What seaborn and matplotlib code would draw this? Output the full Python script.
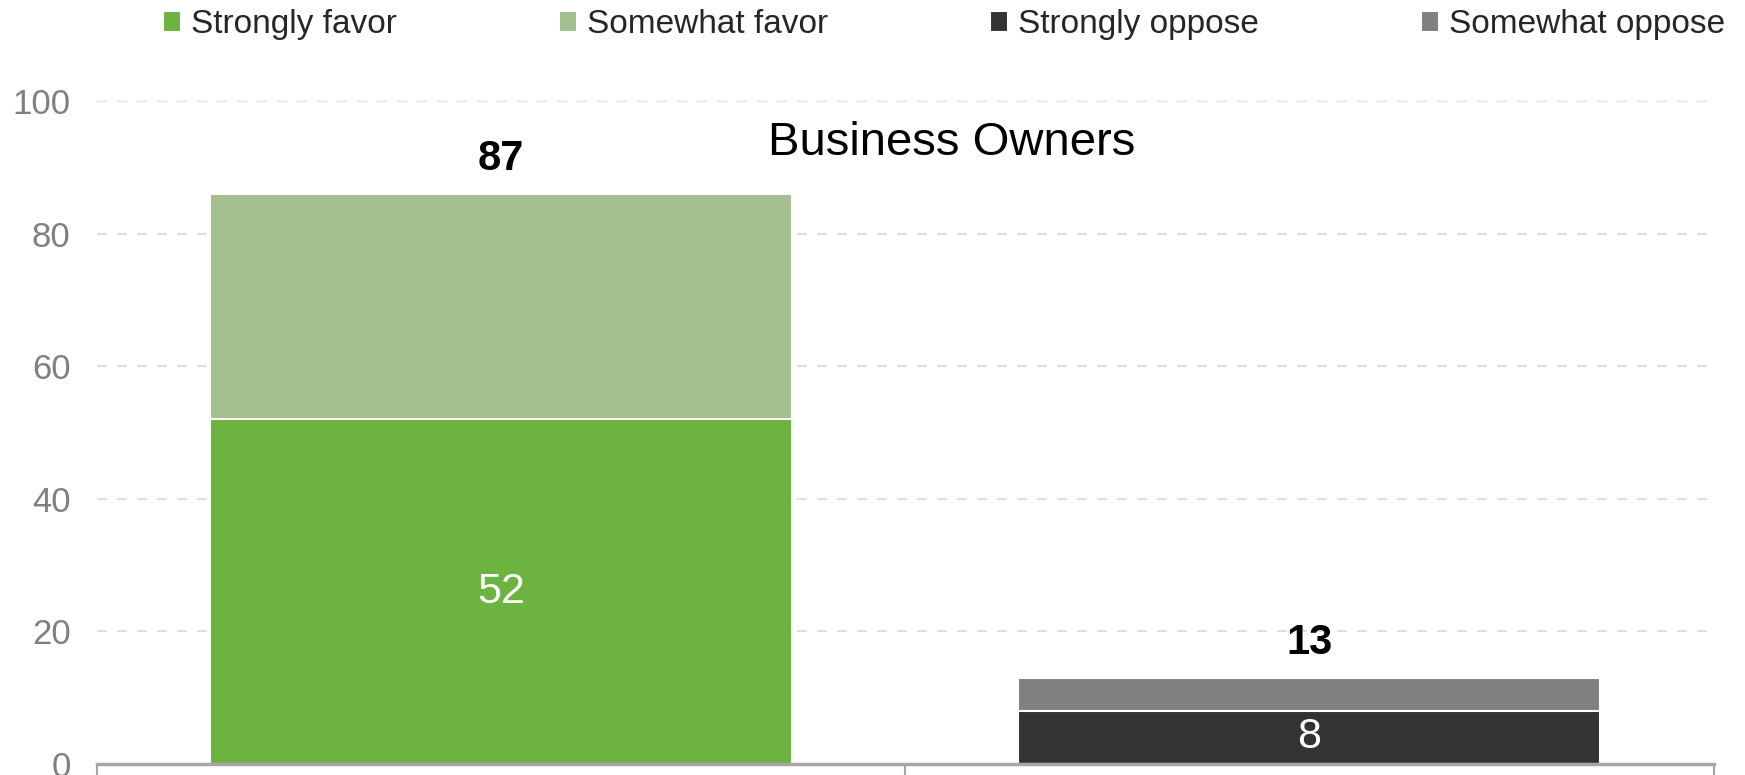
import seaborn as sns
import matplotlib.pyplot as plt
import pandas as pd

# Data
categories = ["Favor", "Oppose"]
strong_labels = ["Strongly favor", "Strongly oppose"]
somewhat_labels = ["Somewhat favor", "Somewhat oppose"]
strong_vals = [52, 8]
somewhat_vals = [34, 5]
totals = [87, 13]

colors = {
    "Strongly favor": "#6DB33F",
    "Somewhat favor": "#A3BF8F",
    "Strongly oppose": "#333333",
    "Somewhat oppose": "#808080",
}

sns.set_style("white")
plt.rcParams["font.family"] = ["Liberation Sans", "DejaVu Sans"]

# cumulative (top of stack) and base segments
top_df = pd.DataFrame({
    "category": categories,
    "series": somewhat_labels,
    "value": [s + w for s, w in zip(strong_vals, somewhat_vals)],
})
base_df = pd.DataFrame({
    "category": categories,
    "series": strong_labels,
    "value": strong_vals,
})

fig = plt.figure(figsize=(17.45, 7.75), dpi=100)
ax = fig.add_axes([0.0556, 0.0142, 0.9264, 0.8555])

sns.barplot(data=top_df, x="category", y="value", hue="series", order=categories,
            palette=colors, dodge=False, width=0.72, saturation=1,
            edgecolor="white", linewidth=1.5, ax=ax, legend=True)
sns.barplot(data=base_df, x="category", y="value", hue="series", order=categories,
            palette=colors, dodge=False, width=0.72, saturation=1,
            edgecolor="white", linewidth=1.5, ax=ax, legend=True)

# labels inside base segments and totals above
for i, (s, t) in enumerate(zip(strong_vals, totals)):
    ax.text(i, s / 2, str(s), ha="center", va="center", color="white", fontsize=31)
    top = s + somewhat_vals[i]
    ax.text(i, top + 2.3, str(t), ha="center", va="bottom", color="black",
            fontsize=30, fontweight="bold")

ax.text(0.529, 0.937, "Business Owners", transform=ax.transAxes, ha="center",
        va="center", fontsize=34, color="black")

ax.set_ylim(0, 100)
ax.set_xlim(-0.5, 1.5)
ax.set_yticks([0, 20, 40, 60, 80, 100])
ax.tick_params(axis="y", labelsize=25, labelcolor="#808080", length=0, pad=19)
ax.set_xticks([-0.5, 0.5, 1.5])
ax.set_xticklabels([])
ax.tick_params(axis="x", bottom=True, direction="out", length=30, width=1.5,
               color="#A6A6A6")
ax.yaxis.grid(True, linestyle=(0, (6, 6)), color="#D9D9D9", linewidth=1.2)
ax.set_axisbelow(True)
ax.set_xlabel("")
ax.set_ylabel("")
for side in ["left", "right", "top"]:
    ax.spines[side].set_visible(False)
ax.spines["bottom"].set_color("#A6A6A6")
ax.spines["bottom"].set_linewidth(2.5)

handles, labels = ax.get_legend_handles_labels()
lookup = dict(zip(labels, handles))
order = ["Strongly favor", "Somewhat favor", "Strongly oppose", "Somewhat oppose"]
ax.get_legend().remove()
fig.legend([lookup[k] for k in order], order, loc="center", ncol=4,
           bbox_to_anchor=(0.541, 0.968), frameon=False, fontsize=24,
           handlelength=0.55, handleheight=0.55, handletextpad=0.3,
           columnspacing=4.85, borderaxespad=0)

fig.savefig("out.png", dpi=100)
